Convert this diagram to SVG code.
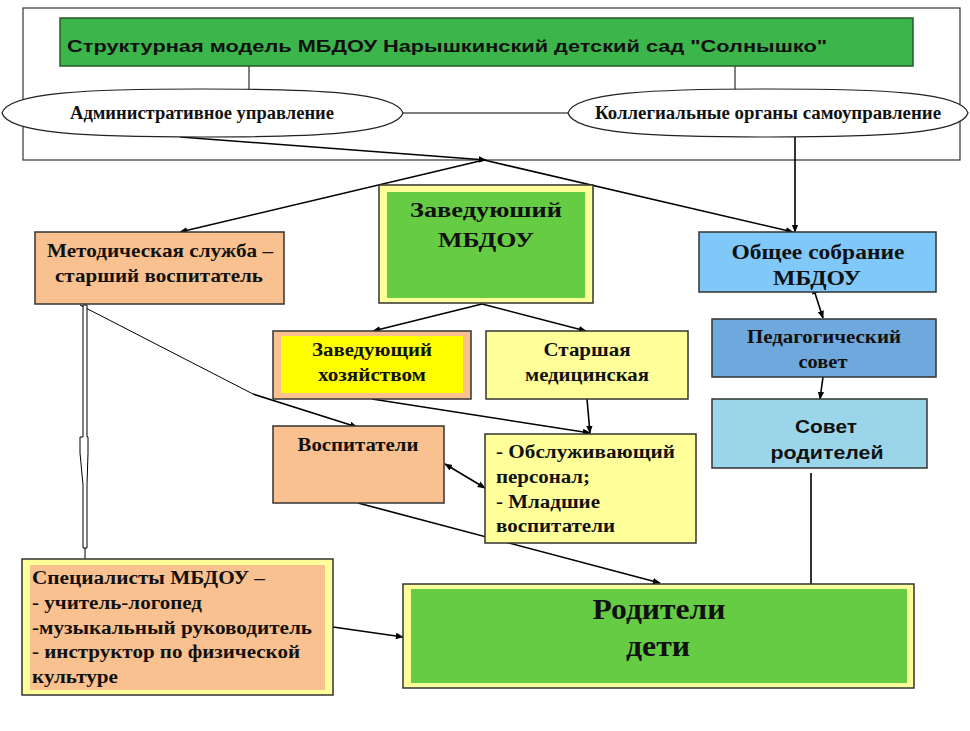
<svg xmlns="http://www.w3.org/2000/svg" width="970" height="731" viewBox="0 0 970 731">
<defs>
<marker id="ah" viewBox="0 0 10 10" refX="9" refY="5" markerWidth="8" markerHeight="8" orient="auto-start-reverse" markerUnits="userSpaceOnUse">
<path d="M0,1 L10,5 L0,9 z" fill="#000"/>
</marker>
<style>
.box{stroke:#333;stroke-width:1.5}
.inner{stroke:none}
.s{font-family:"Liberation Serif","Times New Roman",serif;font-weight:bold;fill:#111}
.a{font-family:"Liberation Sans",Arial,sans-serif;font-weight:bold;fill:#111}
.m{text-anchor:middle}
.ln{stroke:#000;stroke-width:1.6;fill:none}
.th{stroke:#000;stroke-width:1;fill:none}
.arr{marker-end:url(#ah)}
.dbl{marker-start:url(#ah);marker-end:url(#ah)}
.ell{fill:#fff;stroke:#222;stroke-width:1.2}
</style>
</defs>
<rect width="970" height="731" fill="#fff"/>

<g id="frame">
<rect x="23" y="8" width="937" height="152" fill="#fff" stroke="#333" stroke-width="1.2"/>
</g>

<g id="connectors">
<line class="th" x1="249" y1="66" x2="249" y2="90"/>
<line class="th" x1="735" y1="66" x2="735" y2="90"/>
<line class="th" x1="403" y1="113" x2="568" y2="113"/>
<line class="ln arr" x1="180" y1="137" x2="486" y2="160"/>
<line class="ln arr" x1="484" y1="160" x2="180" y2="232"/>
<line class="ln arr" x1="484" y1="160" x2="793" y2="232"/>
<line class="ln arr" x1="795" y1="137" x2="795" y2="232"/>
<line class="ln arr" x1="482" y1="304" x2="373" y2="331"/>
<line class="ln arr" x1="482" y1="304" x2="586" y2="331"/>
<line class="ln dbl" x1="813" y1="287" x2="823" y2="318"/>
<line class="ln arr" x1="823" y1="377" x2="820" y2="399"/>
<polyline class="th" points="80,305 253,394"/>
<line class="ln arr" x1="253" y1="394" x2="357" y2="427"/>
<path d="M83,305 H87 V437 H88 V453 L87,485 V548 H83 V485 L80,453 V437 H83 Z" fill="#fff" stroke="#000" stroke-width="1"/>
<line class="th" x1="85" y1="548" x2="85" y2="560"/>
<line class="ln arr" x1="372" y1="399" x2="590" y2="433"/>
<line class="ln arr" x1="587" y1="399" x2="590" y2="433"/>
<line class="ln dbl" x1="445" y1="464" x2="485" y2="488"/>
<line class="ln arr" x1="358" y1="503" x2="660" y2="583"/>
<line class="ln arr" x1="333" y1="627" x2="403" y2="637"/>
<line class="ln" x1="811" y1="473" x2="811" y2="584"/>
</g>

<g id="title">
<rect x="60" y="18" width="853" height="48" fill="#3cb54a" stroke="#2a5a2a" stroke-width="1.5"/>
<text class="a" x="67" y="52" font-size="17" textLength="760" lengthAdjust="spacingAndGlyphs">Структурная модель МБДОУ Нарышкинский детский сад "Солнышко"</text>
</g>

<g id="admin">
<path class="ell" d="M2,113 C8,92 90,89 202,89 C314,89 396,92 403,113 C396,134 314,137 202,137 C90,137 8,134 2,113 Z"/>
<text class="s m" x="202" y="119" font-size="18" textLength="264" lengthAdjust="spacingAndGlyphs">Административное управление</text>
</g>

<g id="collegial">
<path class="ell" d="M568,113 C574,92 656,89 768,89 C880,89 962,92 968,113 C962,134 880,137 768,137 C656,137 574,134 568,113 Z"/>
<text class="s m" x="768" y="119" font-size="18" textLength="346" lengthAdjust="spacingAndGlyphs">Коллегиальные органы  самоуправление</text>
</g>

<g id="head">
<rect class="box" x="379" y="185" width="214" height="118" fill="#ffff99"/>
<rect class="inner" x="387" y="192" width="198" height="106" fill="#66cc44"/>
<text class="s m" x="486" y="217" font-size="22" textLength="152" lengthAdjust="spacingAndGlyphs">Заведуюший</text>
<text class="s m" x="486" y="247" font-size="22" textLength="96" lengthAdjust="spacingAndGlyphs">МБДОУ</text>
</g>

<g id="method">
<rect class="box" x="35" y="232" width="249" height="72" fill="#f9c18f"/>
<text class="s m" x="160" y="257" font-size="19" textLength="226" lengthAdjust="spacingAndGlyphs">Методическая служба –</text>
<text class="s m" x="159" y="282" font-size="19" textLength="208" lengthAdjust="spacingAndGlyphs">старший воспитатель</text>
</g>

<g id="general">
<rect class="box" x="699" y="232" width="237" height="60" fill="#80c8f8"/>
<text class="s m" x="818" y="259" font-size="21" textLength="173" lengthAdjust="spacingAndGlyphs">Общее собрание</text>
<text class="s m" x="817" y="285" font-size="21" textLength="88" lengthAdjust="spacingAndGlyphs">МБДОУ</text>
</g>

<g id="household">
<rect class="box" x="273" y="331" width="198" height="68" fill="#f9c18f"/>
<rect class="inner" x="281" y="336" width="182" height="57" fill="#ffff00"/>
<text class="s m" x="372" y="356" font-size="18" textLength="120" lengthAdjust="spacingAndGlyphs">Заведующий</text>
<text class="s m" x="372" y="381" font-size="18" textLength="108" lengthAdjust="spacingAndGlyphs">хозяйством</text>
</g>

<g id="medical">
<rect class="box" x="486" y="331" width="202" height="68" fill="#ffff99"/>
<text class="s m" x="587" y="356" font-size="18" textLength="87" lengthAdjust="spacingAndGlyphs">Старшая</text>
<text class="s m" x="587" y="381" font-size="18" textLength="124" lengthAdjust="spacingAndGlyphs">медицинская</text>
</g>

<g id="pedagog">
<rect class="box" x="712" y="319" width="224" height="58" fill="#6fa8dc"/>
<text class="s m" x="824" y="343" font-size="18" textLength="154" lengthAdjust="spacingAndGlyphs">Педагогический</text>
<text class="s m" x="823" y="368" font-size="18" textLength="49" lengthAdjust="spacingAndGlyphs">совет</text>
</g>

<g id="parentscouncil">
<rect class="box" x="712" y="399" width="215" height="69" fill="#9ad5ea"/>
<text class="a m" x="826" y="433" font-size="18" textLength="62" lengthAdjust="spacingAndGlyphs">Совет</text>
<text class="a m" x="827" y="459" font-size="18" textLength="113" lengthAdjust="spacingAndGlyphs">родителей</text>
</g>

<g id="educators">
<rect class="box" x="273" y="426" width="171" height="77" fill="#f9c18f"/>
<text class="s m" x="358" y="451" font-size="18" textLength="121" lengthAdjust="spacingAndGlyphs">Воспитатели</text>
</g>

<g id="staff">
<rect class="box" x="485" y="434" width="211" height="109" fill="#ffff99"/>
<text class="s" x="496" y="458" font-size="18" textLength="179" lengthAdjust="spacingAndGlyphs">- Обслуживающий</text>
<text class="s" x="496" y="483" font-size="18" textLength="94" lengthAdjust="spacingAndGlyphs">персонал;</text>
<text class="s" x="496" y="508" font-size="18" textLength="104" lengthAdjust="spacingAndGlyphs">- Младшие</text>
<text class="s" x="496" y="532" font-size="18" textLength="119" lengthAdjust="spacingAndGlyphs">воспитатели</text>
</g>

<g id="specialists">
<rect class="box" x="22" y="559" width="311" height="136" fill="#ffff99"/>
<rect class="inner" x="30" y="565" width="295" height="125" fill="#f9c18f"/>
<text class="s" x="32" y="584" font-size="18" textLength="233" lengthAdjust="spacingAndGlyphs">Специалисты МБДОУ –</text>
<text class="s" x="32" y="609" font-size="18" textLength="170" lengthAdjust="spacingAndGlyphs">- учитель-логопед</text>
<text class="s" x="32" y="634" font-size="18" textLength="280" lengthAdjust="spacingAndGlyphs">-музыкальный руководитель</text>
<text class="s" x="32" y="658" font-size="18" textLength="268" lengthAdjust="spacingAndGlyphs">- инструктор по физической</text>
<text class="s" x="32" y="683" font-size="18" textLength="86" lengthAdjust="spacingAndGlyphs">культуре</text>
</g>

<g id="parents">
<rect class="box" x="403" y="584" width="511" height="104" fill="#ffff99"/>
<rect class="inner" x="411" y="589" width="496" height="94" fill="#66cc44"/>
<text class="s m" x="659" y="619" font-size="30" textLength="133" lengthAdjust="spacingAndGlyphs">Родители</text>
<text class="s m" x="658" y="656" font-size="30" textLength="64" lengthAdjust="spacingAndGlyphs">дети</text>
</g>
</svg>
